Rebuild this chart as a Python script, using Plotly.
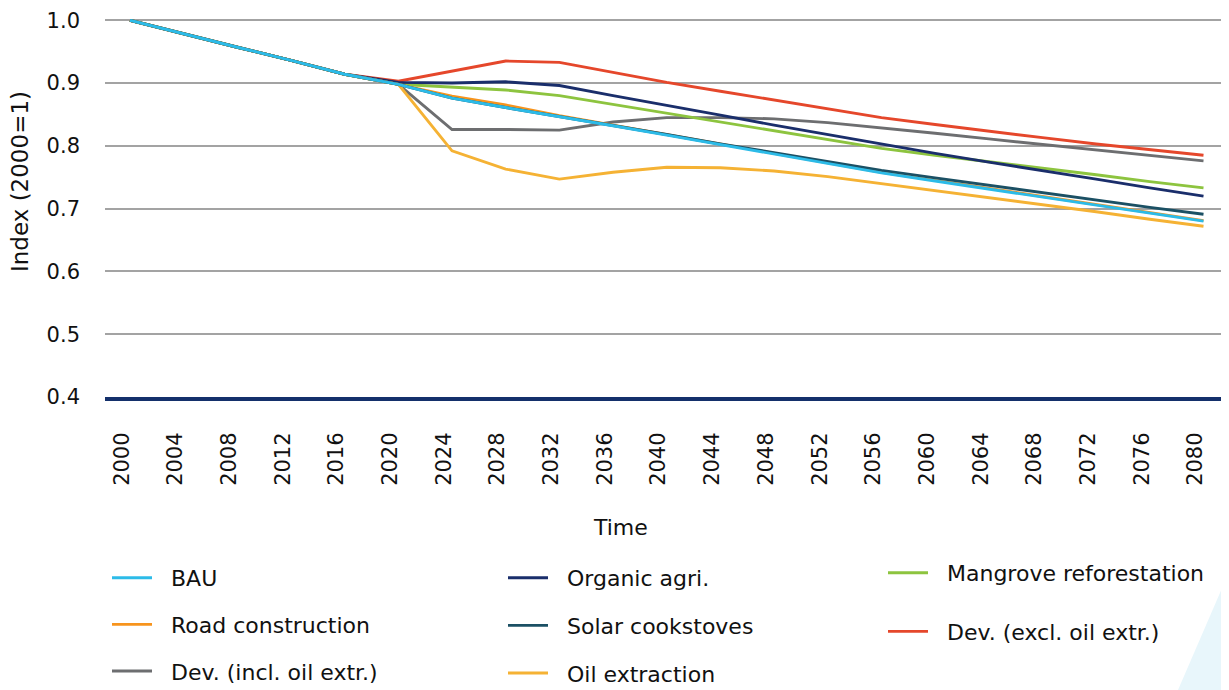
import plotly.graph_objects as go

years = list(range(2000, 2081, 4))

bau = [1.000, 0.978, 0.957, 0.936, 0.914, 0.898, 0.876, 0.861, 0.847, 0.832, 0.817,
       0.802, 0.787, 0.772, 0.757, 0.744, 0.731, 0.718, 0.706, 0.693, 0.680]
road = [1.000, 0.978, 0.957, 0.936, 0.914, 0.898, 0.879, 0.865, 0.848, 0.833, 0.818,
        0.803, 0.788, 0.773, 0.758, 0.745, 0.732, 0.719, 0.707, 0.694, 0.681]
dev_incl = [1.000, 0.978, 0.957, 0.936, 0.914, 0.898, 0.826, 0.826, 0.825, 0.838, 0.845,
            0.845, 0.843, 0.837, 0.829, 0.820, 0.811, 0.802, 0.794, 0.785, 0.776]
organic = [1.000, 0.978, 0.957, 0.936, 0.914, 0.901, 0.900, 0.902, 0.896, 0.880, 0.865,
           0.849, 0.833, 0.818, 0.802, 0.788, 0.774, 0.761, 0.747, 0.733, 0.720]
solar = [1.000, 0.978, 0.957, 0.936, 0.914, 0.898, 0.876, 0.861, 0.847, 0.833, 0.818,
         0.803, 0.789, 0.775, 0.761, 0.749, 0.737, 0.725, 0.713, 0.702, 0.691]
oil = [1.000, 0.978, 0.957, 0.936, 0.914, 0.898, 0.792, 0.763, 0.747, 0.758, 0.766,
       0.765, 0.760, 0.751, 0.740, 0.729, 0.717, 0.706, 0.695, 0.683, 0.672]
mangrove = [1.000, 0.978, 0.957, 0.936, 0.914, 0.898, 0.893, 0.889, 0.880, 0.866, 0.852,
            0.838, 0.824, 0.810, 0.796, 0.785, 0.775, 0.764, 0.754, 0.743, 0.733]
dev_excl = [1.000, 0.978, 0.957, 0.936, 0.914, 0.903, 0.919, 0.935, 0.933, 0.917, 0.901,
            0.887, 0.873, 0.859, 0.845, 0.834, 0.823, 0.813, 0.803, 0.794, 0.785]

x_ticks = list(range(2000, 2081, 4))
y_ticks = [0.4, 0.5, 0.6, 0.7, 0.8, 0.9, 1.0]

FONT = "DejaVu Sans"
OFF = 8                      # browser body margin
W, H = 1229 - OFF, 690 - OFF
L, R, T = 105 - OFF, 0, 19 - OFF
B = H - (397 - OFF)
PW, PH = W - L - R, H - T - B


def px(xp):                  # page pixel x -> paper
    return (xp - OFF - L) / PW


def py(yp):                  # page pixel y -> paper
    return (H - B - (yp - OFF)) / PH


# name, values, color, legend, rank
series = [
    ("Dev. (excl. oil extr.)", dev_excl, "#e5472b", "legend3", 2),
    ("Dev. (incl. oil extr.)", dev_incl, "#6d6e70", "legend", 3),
    ("Mangrove reforestation", mangrove, "#8dc43f", "legend3", 1),
    ("Organic agri.", organic, "#1a2e6b", "legend2", 1),
    ("Oil extraction", oil, "#f5b234", "legend2", 3),
    ("Road construction", road, "#f7941d", "legend", 2),
    ("Solar cookstoves", solar, "#1b5064", "legend2", 2),
    ("BAU", bau, "#2cbbe8", "legend", 1),
]

NB = "\u00a0\u00a0"
fig = go.Figure()
for name, vals, col, leg, rank in series:
    fig.add_trace(go.Scatter(
        x=years, y=vals, mode="lines", name=NB + name,
        line=dict(color=col, width=2.9),
        legend=leg, legendgroup=name, legendrank=rank,
    ))

legend_common = dict(
    orientation="v", font=dict(family=FONT, size=22, color="#111111"),
    bgcolor="rgba(0,0,0,0)", itemwidth=40,
    xref="paper", yref="paper", xanchor="left", yanchor="top",
)

LABEL_SHIFT = 0.6  # labels sit slightly left of their year, as in the reference

fig.update_layout(
    width=W, height=H,
    margin=dict(l=L, r=R, t=T, b=B, autoexpand=False),
    paper_bgcolor="white", plot_bgcolor="white",
    font=dict(family=FONT, size=21, color="#111111"),
    xaxis=dict(
        range=[1998.14, 2081.9], tickmode="array",
        tickvals=[v - LABEL_SHIFT for v in x_ticks],
        ticktext=[str(v) for v in x_ticks], tickangle=-90,
        showgrid=False, zeroline=False, showline=True, automargin=False,
        linecolor="#14306b", linewidth=4, ticks="", ticklabelstandoff=23,
        ticklabeloverflow="allow",
        tickfont=dict(family=FONT, size=21, color="#111111"),
    ),
    yaxis=dict(
        range=[0.4, 1.002], tickmode="array", tickvals=y_ticks,
        ticktext=[f"{v:.1f}" for v in y_ticks], automargin=False,
        showgrid=True, gridcolor="#a3a3a3", gridwidth=2,
        zeroline=False, showline=False, ticks="", ticklabelstandoff=24,
        ticklabeloverflow="allow",
        tickfont=dict(family=FONT, size=21, color="#111111"),
    ),
    legend=dict(legend_common, x=px(107), y=py(557), tracegroupgap=15),
    legend2=dict(legend_common, x=px(503), y=py(557), tracegroupgap=16),
    legend3=dict(legend_common, x=px(883), y=py(552), tracegroupgap=27),
    showlegend=True,
)

fig.add_annotation(text="Index (2000=1)", xref="paper", yref="paper",
                   x=px(20), y=py(182), xanchor="center", yanchor="middle",
                   textangle=-90, showarrow=False,
                   font=dict(family=FONT, size=23, color="#111111"))
fig.add_annotation(text="Time", xref="paper", yref="paper",
                   x=px(620), y=py(527), xanchor="center", yanchor="middle",
                   showarrow=False,
                   font=dict(family=FONT, size=22, color="#111111"))

fig.add_shape(type="path", xref="paper", yref="paper",
              path=f"M {px(1178)} {py(690)} L {px(1229)} {py(572)} L {px(1229)} {py(690)} Z",
              fillcolor="#e8f6fb", line=dict(width=0), layer="below")

fig.write_html("out.html")
